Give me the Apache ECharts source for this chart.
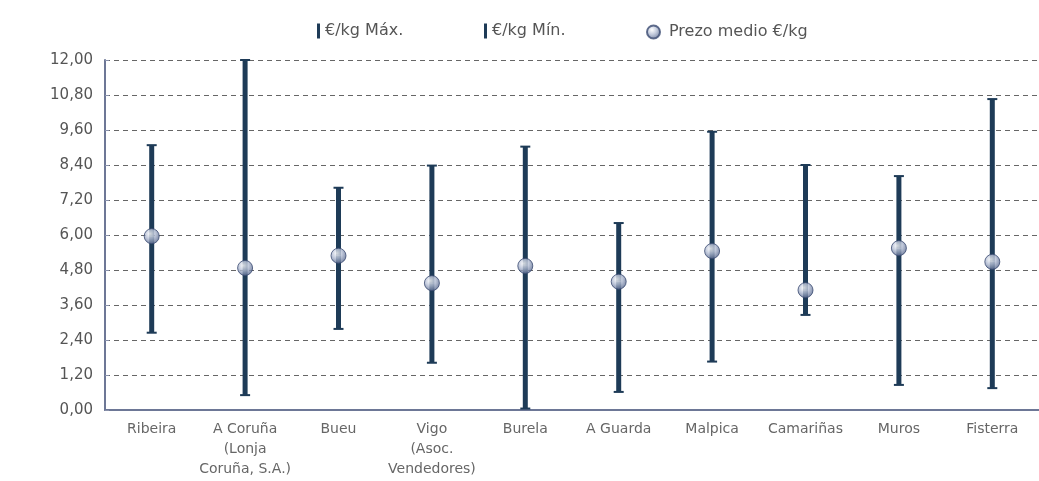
<!DOCTYPE html>
<html>
<head>
<meta charset="utf-8">
<script src="https://cdn.jsdelivr.net/npm/echarts@6/dist/echarts.min.js"></script>
<style>
  html, body { margin: 0; padding: 0; background: #fff; }
  #chart { width: 1039px; height: 481px; }
</style>
</head>
<body>
<div id="chart"></div>
<script>
var categories = ['Ribeira', 'A Coruña\n(Lonja\nCoruña, S.A.)', 'Bueu', 'Vigo\n(Asoc.\nVendedores)', 'Burela',
    'A Guarda', 'Malpica', 'Camariñas', 'Muros', 'Fisterra'];
var maxVals  = [9.08, 12.00, 7.62, 8.38, 9.03, 6.41, 9.54, 8.40, 8.02, 10.66];
var minVals  = [2.65, 0.51, 2.78, 1.62, 0.05, 0.62, 1.66, 3.26, 0.86, 0.75];
var meanVals = [5.96, 4.87, 5.29, 4.35, 4.94, 4.40, 5.45, 4.11, 5.55, 5.08];
var yTicks = { min: 0, max: 12, interval: 1.2 };

var barColor = '#1e3b57';
var myChart = echarts.init(document.getElementById('chart'));

// dibuja un tramo vertical con remate
function renderBar(params, api) {
    var from = api.coord([api.value(0), api.value(1)]);
    var to = api.coord([api.value(0), api.value(2)]);
    return {
        type: 'group',
        children: [
            { type: 'line', shape: { x1: from[0], y1: from[1], x2: to[0], y2: to[1] },
              style: { stroke: barColor, lineWidth: 5 } },
            { type: 'line', shape: { x1: to[0] - 5, y1: to[1], x2: to[0] + 5, y2: to[1] },
              style: { stroke: barColor, lineWidth: 2 } }
        ]
    };
}

var maxData = categories.map(function (c, i) { return [i, meanVals[i], maxVals[i]]; });
var minData = categories.map(function (c, i) { return [i, meanVals[i], minVals[i]]; });
var meanData = categories.map(function (c, i) { return [i, meanVals[i]]; });

var sphere = new echarts.graphic.RadialGradient(0.4, 0.35, 0.7, [
    { offset: 0, color: '#ffffff' },
    { offset: 0.45, color: '#b4bed4' },
    { offset: 1, color: '#4e5f86' }
]);

var legendText = { color: '#555', fontSize: 16 };

var option = {
    backgroundColor: '#fff',
    textStyle: { fontFamily: 'DejaVu Sans' },
    legend: [
        {
            top: 18, left: 312, itemWidth: 3, itemHeight: 15, itemGap: 0,
            textStyle: legendText,
            data: [{ name: '€/kg Máx.', icon: 'rect' }]
        },
        {
            top: 18, left: 479, itemWidth: 3, itemHeight: 15, itemGap: 0,
            textStyle: legendText,
            data: [{ name: '€/kg Mín.', icon: 'rect' }]
        },
        {
            top: 19, left: 641, itemWidth: 13, itemHeight: 13, itemGap: 0,
            textStyle: { color: '#555', fontSize: 16, padding: [0, 0, 0, 4] },
            data: [{ name: 'Prezo medio €/kg', icon: 'circle' }]
        }
    ],
    grid: { left: 105, right: 0, top: 60, bottom: 71 },
    xAxis: {
        type: 'category',
        data: categories,
        axisLine: { lineStyle: { color: '#6d7796', width: 2 } },
        axisTick: { lineStyle: { color: '#444' }, length: 5, inside: true },
        axisLabel: { color: '#666', fontSize: 14, lineHeight: 20, margin: 9, interval: 0 }
    },
    yAxis: {
        type: 'value',
        min: yTicks.min,
        max: yTicks.max,
        interval: yTicks.interval,
        axisLine: { show: true, lineStyle: { color: '#6d7796', width: 2 } },
        axisTick: { show: true, inside: true, length: 4, lineStyle: { color: '#8890aa' } },
        axisLabel: {
            color: '#555', fontSize: 15, margin: 12,
            formatter: function (v) { return v.toFixed(2).replace('.', ','); }
        },
        splitLine: { lineStyle: { color: '#666', type: [5, 4], width: 1 } }
    },
    series: [
        {
            name: '€/kg Máx.',
            type: 'custom',
            renderItem: renderBar,
            encode: { x: 0, y: [1, 2] },
            itemStyle: { color: barColor },
            data: maxData,
            z: 2
        },
        {
            name: '€/kg Mín.',
            type: 'custom',
            renderItem: renderBar,
            encode: { x: 0, y: [1, 2] },
            itemStyle: { color: barColor },
            data: minData,
            z: 2
        },
        {
            name: 'Prezo medio €/kg',
            type: 'scatter',
            symbol: 'circle',
            symbolSize: 15,
            itemStyle: { color: sphere, borderColor: '#3a4a70', borderWidth: 1 },
            data: meanData,
            z: 5
        }
    ]
};
myChart.setOption(option);
</script>
</body>
</html>
